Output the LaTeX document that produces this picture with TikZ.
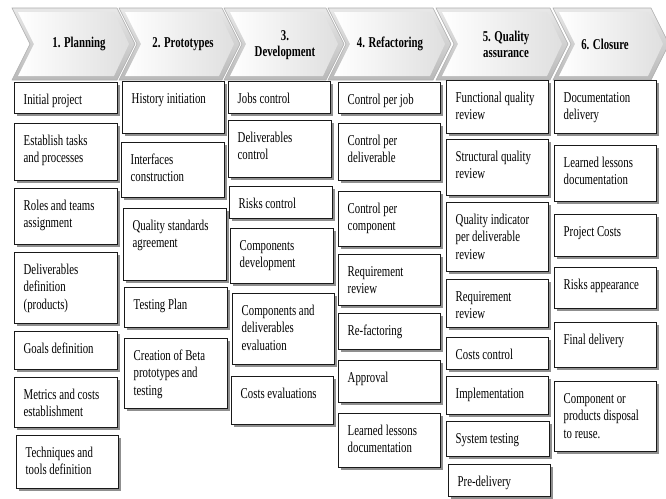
\documentclass[tikz,border=0pt]{standalone}
\usepackage{fontspec}
\setmainfont{Liberation Serif}[FakeStretch=0.72]
\usetikzlibrary{shadows}

\tikzset{
  boxfr/.style={rectangle, draw=black!90, line width=1.2pt, fill=white, inner sep=0pt,
    drop shadow={shadow xshift=2.6pt, shadow yshift=-2.6pt, fill=black!55, opacity=0.8}},
  boxtx/.style={inner sep=0pt, align=left, anchor=north west, text=black,
    font=\fontsize{15}{17.7}\selectfont},
  chevout/.style={top color=gray!18, bottom color=gray!55, draw=gray!65, line width=0.6pt},
  chevin/.style={left color=white, right color=gray!25},
  chevtx/.style={inner sep=0pt, align=center, text=black,
    font=\bfseries\fontsize{15}{16}\selectfont}
}

% task box: name, x1, y1, x2, y2, text (top-left aligned)
\newcommand\taskbox[6]{%
  \node[boxfr, anchor=north west, minimum width={#4-#2}, minimum height={#5-#3}] (#1) at (#2,#3) {};
  \node[boxtx] (#1-t) at ([shift={(9.5pt,-10pt)}]#1.north west) {\rule{0pt}{12pt}#6};
}

% phase chevron: left x, right x (top corner)
\newcommand\phasechev[2]{%
  \path[chevout] (#1,8) -- (#2,8) -- (#2+18,44) -- (#2,80) -- (#1,80) -- (#1+18,44) -- cycle;
  \path[chevin] (#1+6,12) -- (#2-3,12) -- (#2+12,44) -- (#2-3,76) -- (#1+6,76) -- (#1+22,44) -- cycle;
}

\begin{document}
\begin{tikzpicture}[x=1pt, y=-1pt]
\useasboundingbox[fill=white] (0,0) rectangle (666,498);
\begin{scope}
\clip (0,0) rectangle (666,498);

% phase headers
\phasechev{12}{117}
\phasechev{119}{222}
\phasechev{224}{326}
\phasechev{328}{433}
\phasechev{436}{550}
\phasechev{553}{651}

\node[chevtx] (h1) at (79,44) {1. Planning};
\node[chevtx] (h2) at (183,44) {2. Prototypes};
\node[chevtx] (h3) at (285,45) {3.\\Development};
\node[chevtx] (h4) at (390,44) {4. Refactoring};
\node[chevtx] (h5) at (506,44) {5. Quality\\assurance};
\node[chevtx] (h6) at (605,44) {6. Closure};

% 1. Planning
\taskbox{c1a}{14}{82}{117}{113}{Initial project}
\taskbox{c1b}{14}{123}{117}{180}{Establish tasks\\and processes}
\taskbox{c1c}{14}{188}{117}{244}{Roles and teams\\assignment}
\taskbox{c1d}{14}{252}{117}{323}{Deliverables\\definition\\(products)}
\taskbox{c1e}{14}{331}{117}{369}{Goals definition}
\taskbox{c1f}{14}{377}{117}{427}{Metrics and costs\\establishment}
\taskbox{c1g}{16}{435}{118}{488}{Techniques and\\tools definition}

% 2. Prototypes
\taskbox{c2a}{122}{81}{224}{133}{History initiation}
\taskbox{c2b}{121}{142}{224}{197}{Interfaces\\construction}
\taskbox{c2c}{123}{208}{226}{280}{Quality standards\\agreement}
\taskbox{c2d}{124}{287}{227}{327}{Testing Plan}
\taskbox{c2e}{124}{338}{227}{408}{Creation of Beta\\prototypes and\\testing}

% 3. Development
\taskbox{c3a}{228}{81}{330}{113}{Jobs control}
\taskbox{c3b}{228}{120}{331}{177}{Deliverables\\control}
\taskbox{c3c}{229}{186}{332}{218}{Risks control}
\taskbox{c3d}{230}{228}{333}{283}{Components\\development}
\taskbox{c3e}{232}{293}{334}{364}{Components and\\deliverables\\evaluation}
\taskbox{c3f}{231}{376}{333}{424}{Costs evaluations}

% 4. Refactoring
\taskbox{c4a}{338}{82}{440}{113}{Control per job}
\taskbox{c4b}{338}{123}{440}{180}{Control per\\deliverable}
\taskbox{c4c}{338}{191}{440}{246}{Control per\\component}
\taskbox{c4d}{338}{254}{440}{305}{Requirement\\review}
\taskbox{c4e}{338}{313}{440}{349}{Re-factoring}
\taskbox{c4f}{338}{360}{440}{402}{Approval}
\taskbox{c4g}{338}{413}{440}{467}{Learned lessons\\documentation}

% 5. Quality assurance
\taskbox{c5a}{446}{80}{548}{133}{Functional quality\\review}
\taskbox{c5b}{446}{139}{548}{195}{Structural quality\\review}
\taskbox{c5c}{446}{202}{548}{271}{Quality indicator\\per deliverable\\review}
\taskbox{c5d}{446}{279}{548}{327}{Requirement\\review}
\taskbox{c5e}{446}{337}{548}{369}{Costs control}
\taskbox{c5f}{446}{376}{548}{414}{Implementation}
\taskbox{c5g}{446}{421}{549}{456}{System testing}
\taskbox{c5h}{448}{464}{550}{496}{Pre-delivery}

% 6. Closure
\taskbox{c6a}{554}{80}{656}{133}{Documentation\\delivery}
\taskbox{c6b}{554}{145}{656}{201}{Learned lessons\\documentation}
\taskbox{c6c}{554}{214}{656}{256}{Project Costs}
\taskbox{c6d}{554}{267}{656}{308}{Risks appearance}
\taskbox{c6e}{554}{322}{656}{367}{Final delivery}
\taskbox{c6f}{554}{381}{656}{451}{Component or\\products disposal\\to reuse.}
\end{scope}
\end{tikzpicture}
\end{document}
